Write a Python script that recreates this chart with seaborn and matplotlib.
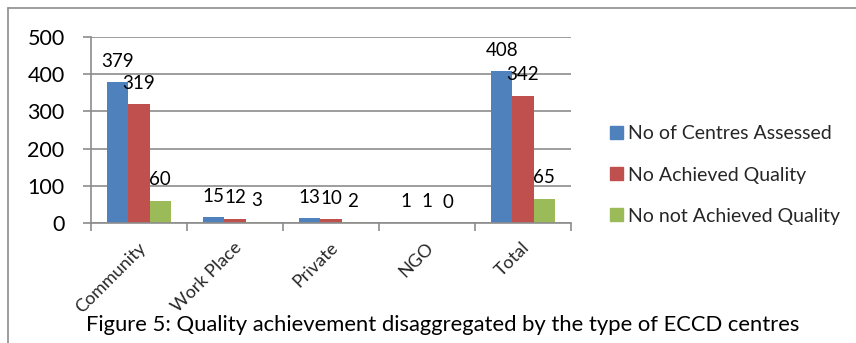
import matplotlib
matplotlib.use("Agg")
import matplotlib.pyplot as plt
import matplotlib.transforms as mtransforms
from matplotlib.lines import Line2D
import seaborn as sns
import pandas as pd

categories = ["Community", "Work Place", "Private", "NGO", "Total"]
series_names = ["No of Centres Assessed", "No Achieved Quality", "No not Achieved Quality"]
assessed = [379, 15, 13, 1, 408]
achieved = [319, 12, 10, 1, 342]
not_achieved = [60, 3, 2, 0, 65]
colors = ["#4F81BD", "#C0504D", "#9BBB59"]
caption = "Figure 5: Quality achievement disaggregated by the type of ECCD centres"

sns.set_theme(style="white")
plt.rcParams["font.family"] = ["Lato", "DejaVu Sans"]

rows = []
for name, vals in zip(series_names, [assessed, achieved, not_achieved]):
    for cat, v in zip(categories, vals):
        rows.append({"Type": cat, "Series": name, "Count": v})
df = pd.DataFrame(rows)

W, H = 856, 343
fig = plt.figure(figsize=(W / 100, H / 100), dpi=100)
fig.patch.set_facecolor("white")
ax = fig.add_axes([91 / W, 1 - 223 / H, (571 - 91) / W, (223 - 37) / H])

sns.barplot(data=df, x="Type", y="Count", hue="Series", order=categories,
            hue_order=series_names, palette=colors, width=2 / 3, gap=0,
            saturation=1, ax=ax, legend=True, edgecolor="none", linewidth=0)

ax.set_ylim(0, 500)
ax.set_xlim(-0.5, len(categories) - 0.5)
ax.set_yticks(range(0, 501, 100))
ax.set_xlabel("")
ax.set_ylabel("")
ax.yaxis.grid(True, color="#8C8C8C", linewidth=1.2)
ax.set_axisbelow(True)
for side in ["top", "right"]:
    ax.spines[side].set_visible(False)
for side in ["left", "bottom"]:
    ax.spines[side].set_color("#8C8C8C")
    ax.spines[side].set_linewidth(1.2)

ax.tick_params(axis="y", left=True, length=6, width=1.2, color="#8C8C8C",
               labelsize=15.5, pad=13, labelcolor="black")
ax.set_xticks(range(len(categories)))
ax.set_xticks([i - 0.5 for i in range(len(categories) + 1)], minor=True)
ax.tick_params(axis="x", which="major", length=0, pad=16)
ax.tick_params(axis="x", which="minor", bottom=True, length=6, width=1.2,
               color="#8C8C8C")
ax.set_xticklabels(categories, rotation=45, ha="right", va="center",
                   rotation_mode="anchor", fontsize=13)
shift = mtransforms.ScaledTranslation(4 / 100, 0, fig.dpi_scale_trans)
for lbl in ax.get_xticklabels():
    lbl.set_transform(lbl.get_transform() + shift)

# value labels above each bar
for container in ax.containers:
    ax.bar_label(container, labels=[f"{int(b.get_height())}" for b in container],
                 padding=9, fontsize=13.5, color="black")

ax.get_legend().remove()
handles = [plt.Rectangle((0, 0), 1, 1, color=c) for c in colors]
fig.legend(handles, series_names, loc="center left",
           bbox_to_anchor=(610 / W, 1 - 175 / H), frameon=False,
           fontsize=14, handlelength=0.65, handleheight=0.65,
           handletextpad=0.3, labelspacing=1.25, borderpad=0,
           borderaxespad=0)

fig.text(443 / W, 1 - 325 / H, caption, ha="center", va="center",
         fontsize=15.8, color="black")

# chart frame
fig.add_artist(Line2D([8 / W, 1], [1 - 8 / H, 1 - 8 / H], color="#8C8C8C",
                      linewidth=1.2, transform=fig.transFigure))
fig.add_artist(Line2D([8 / W, 8 / W], [1 - 8 / H, 0], color="#8C8C8C",
                      linewidth=1.2, transform=fig.transFigure))

fig.savefig("out.png", dpi=100)
